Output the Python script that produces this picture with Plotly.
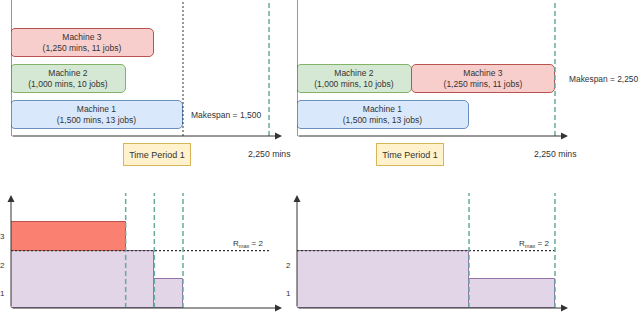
import plotly.graph_objects as go

# ---------------- data ----------------
machines = ["Machine 1", "Machine 2", "Machine 3"]
durations = [1500, 1000, 1250]          # minutes
jobs = [13, 10, 11]
left_starts = [0, 0, 0]
right_starts = [0, 0, 1000]
left_rows = [0, 1, 2]
right_rows = [0, 1, 1]
makespans = [1500, 2250]
horizon = 2250
r_max = 2

# resource usage profiles (start, duration, level)
left_use_starts = [0, 1250]
left_use_durs = [1250, 250]
left_use_levels = [2, 1]
left_excess_starts = [0]
left_excess_durs = [1000]
left_excess_levels = [1]
right_use_starts = [0, 1500]
right_use_durs = [1500, 750]
right_use_levels = [2, 1]
left_events = [1000, 1250, 1500]
right_events = [1500, 2250]
y_ticks = [0.5, 1.5, 2.5]
y_ticktext_left = ["1", "2", "3"]
y_ticktext_right = ["1", "2"]

# ---------------- layout helpers ----------------
W, H = 640, 329
def P(px): return px / W
def Q(py): return 1 - py / H

k = 172 / 1500.0            # px per minute
XL, XR = 11, 297            # axis origins (px)
XW = 274                    # axis domain length (px)
XTIP = 271                  # arrow tip offset (px)
xr = [0, XW / k]
top_yr = [-21 / 36, -21 / 36 + 136 / 36]
bot_unit = 86 / 3
BOT_TOP = 193
bot_yr = [0, (308 - BOT_TOP) / bot_unit]
fills = ["#dae8fc", "#d5e8d4", "#f8cecc"]
edges = ["#6c8ebf", "#82b366", "#b85450"]
GREEN = "#67ab9f"
INK = "#333333"
FONT = "Liberation Sans, Arial, sans-serif"

labels = [f"{m}<br>({d:,} mins, {j} jobs)" for m, d, j in zip(machines, durations, jobs)]

fig = go.Figure()
for xa, ya, starts, rows in [("x", "y", left_starts, left_rows), ("x2", "y2", right_starts, right_rows)]:
    fig.add_trace(go.Bar(
        orientation="h", x=durations, base=starts, y=rows, width=28 / 36,
        xaxis=xa, yaxis=ya, text=labels, textposition="inside",
        insidetextanchor="middle", textangle=0, constraintext="none",
        textfont=dict(size=8.5, color=INK, family=FONT),
        marker=dict(color=fills, line=dict(color=edges, width=1), cornerradius=5),
        hoverinfo="skip", showlegend=False))

# bottom panels
fig.add_trace(go.Bar(x=left_use_starts, width=left_use_durs, offset=0, y=left_use_levels,
                     xaxis="x3", yaxis="y3", marker=dict(color="#e1d5e7", line=dict(color="#9673a6", width=1)),
                     hoverinfo="skip", showlegend=False))
fig.add_trace(go.Bar(x=left_excess_starts, width=left_excess_durs, offset=0, y=left_excess_levels,
                     base=[r_max], xaxis="x3", yaxis="y3",
                     marker=dict(color="#fa8072", line=dict(color="#b85450", width=1)),
                     hoverinfo="skip", showlegend=False))
fig.add_trace(go.Bar(x=right_use_starts, width=right_use_durs, offset=0, y=right_use_levels,
                     xaxis="x4", yaxis="y4", marker=dict(color="#e1d5e7", line=dict(color="#9673a6", width=1)),
                     hoverinfo="skip", showlegend=False))

shapes = []
annotations = []

def arrow(xa, ya, x, y, ax, ay):
    annotations.append(dict(xref=xa, yref=ya + " domain", axref=xa, ayref=ya + " domain",
                            x=x, y=y, ax=ax, ay=ay, text="", showarrow=True,
                            arrowhead=2, arrowsize=1.4, arrowwidth=1, arrowcolor=INK))

# top panels
for xa, ya, ms in [("x", "y", makespans[0]), ("x2", "y2", makespans[1])]:
    shapes.append(dict(type="line", xref=xa, yref=ya + " domain", x0=0, x1=0, y0=0, y1=1,
                       line=dict(color=INK, width=1)))
    arrow(xa, ya, XTIP / k, 0, 0, 0)
    if ms < horizon:
        shapes.append(dict(type="line", xref=xa, yref=ya + " domain", x0=ms, x1=ms, y0=0, y1=1,
                           line=dict(color=INK, width=1, dash="2px,2px")))
    shapes.append(dict(type="line", xref=xa, yref=ya + " domain", x0=horizon, x1=horizon,
                       y0=0, y1=(136 - 3) / 136, line=dict(color=GREEN, width=1.5, dash="5px,3px")))
    annotations.append(dict(xref=xa, yref="paper", x=horizon, y=Q(154), text=f"{horizon:,} mins",
                            showarrow=False, font=dict(size=8.7, color=INK, family=FONT)))

annotations.append(dict(xref="x", yref="y", x=(makespans[0] + horizon) / 2, y=0,
                        text=f"Makespan = {makespans[0]:,}", showarrow=False,
                        font=dict(size=8.5, color=INK, family=FONT)))
annotations.append(dict(xref="x2", yref="y2", x=horizon, y=1, xanchor="left", xshift=12,
                        text=f"Makespan = {makespans[1]:,}", showarrow=False,
                        font=dict(size=8.4, color=INK, family=FONT)))
for cx in [123, 409.5]:
    annotations.append(dict(xref="paper", yref="paper", x=P(cx), y=Q(154.5), text="Time Period 1",
                            showarrow=False, width=66, height=21, borderpad=0, borderwidth=1,
                            bgcolor="#fff2cc", bordercolor="#d6b656",
                            font=dict(size=9, color=INK, family=FONT)))

# bottom panels
for xa, ya, events in [("x3", "y3", left_events), ("x4", "y4", right_events)]:
    shapes.append(dict(type="line", xref=xa, yref=ya, x0=0, x1=horizon, y0=r_max, y1=r_max,
                       line=dict(color=INK, width=1.3, dash="2px,2px")))
    for e in events:
        shapes.append(dict(type="line", xref=xa, yref=ya + " domain", x0=e, x1=e, y0=0, y1=1,
                           line=dict(color=GREEN, width=1.5, dash="5px,3px")))
    arrow(xa, ya, XTIP / k, 0, 0, 0)
    arrow(xa, ya, 0, (308 - 195) / (308 - BOT_TOP), 0, 0)
    annotations.append(dict(xref=xa, yref=ya, x=horizon, y=r_max, xanchor="right", yanchor="bottom",
                            xshift=-4, yshift=0, text=f"R<sub>max</sub> = {r_max}", showarrow=False,
                            font=dict(size=8, color=INK, family=FONT)))

annotations.append(dict(xref="paper", yref="paper", x=P(14), y=Q(325.5), xanchor="left", yanchor="top",
                        text="Figure 1:  Example of HRMS with limited availability and resource constraints",
                        showarrow=False, font=dict(size=17, color="#111111",
                                                   family="Liberation Serif, Times New Roman, serif")))

hidden = dict(visible=False, showgrid=False, zeroline=False)
ytick_style = dict(showgrid=False, zeroline=False, showline=False,
                   ticks="outside", ticklen=4, tickcolor="rgba(0,0,0,0)", automargin=False,
                   tickfont=dict(size=8, color=INK, family=FONT))
fig.update_layout(
    width=W, height=H, margin=dict(l=0, r=0, t=0, b=0, autoexpand=False),
    paper_bgcolor="white", plot_bgcolor="white", barmode="overlay", bargap=0,
    hovermode=False,
    xaxis=dict(domain=[P(XL), P(XL + XW)], range=xr, anchor="y", **hidden),
    yaxis=dict(domain=[Q(136), Q(0)], range=top_yr, anchor="x", **hidden),
    xaxis2=dict(domain=[P(XR), P(XR + XW)], range=xr, anchor="y2", **hidden),
    yaxis2=dict(domain=[Q(136), Q(0)], range=top_yr, anchor="x2", **hidden),
    xaxis3=dict(domain=[P(XL), P(XL + XW)], range=xr, anchor="y3", **hidden),
    yaxis3=dict(domain=[Q(308), Q(BOT_TOP)], range=bot_yr, anchor="x3",
                tickvals=y_ticks, ticktext=y_ticktext_left, **ytick_style),
    xaxis4=dict(domain=[P(XR), P(XR + XW)], range=xr, anchor="y4", **hidden),
    yaxis4=dict(domain=[Q(308), Q(BOT_TOP)], range=bot_yr, anchor="x4",
                tickvals=y_ticks[:2], ticktext=y_ticktext_right, **ytick_style),
    shapes=shapes, annotations=annotations,
)
fig.write_html("out.html", config={"displayModeBar": False},
               post_script="document.body.style.margin='0';document.body.style.padding='0';")
